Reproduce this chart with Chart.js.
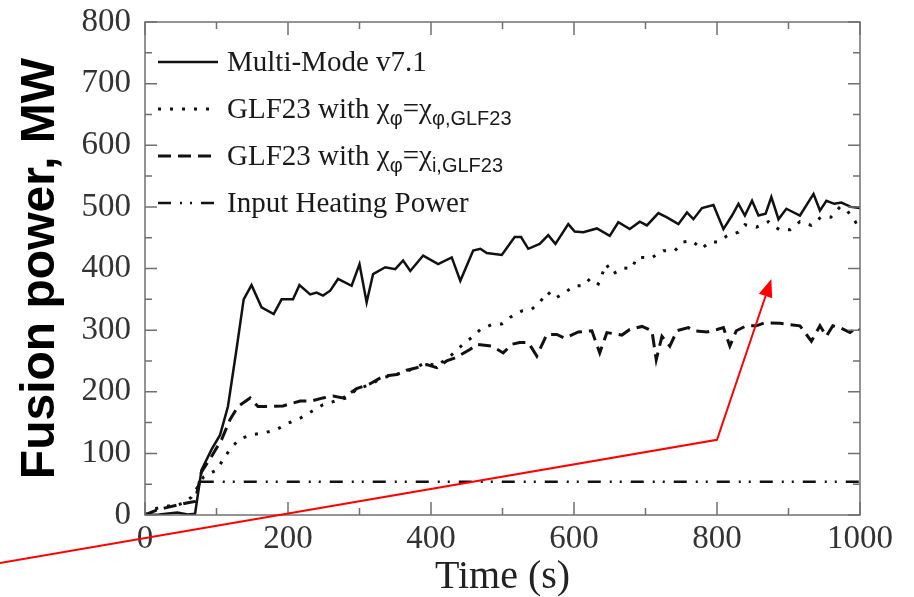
<!DOCTYPE html>
<html>
<head>
<meta charset="utf-8">
<script src="https://cdn.jsdelivr.net/npm/chart.js@4.4.1/dist/chart.umd.min.js"></script>
<style>
  html, body { margin: 0; padding: 0; background: #fff; }
</style>
</head>
<body>
<canvas id="fusion" width="914" height="597"></canvas>
<script>
// Multi-Mode v7.1 (solid)
const timeMM = [0, 20, 45, 60, 70, 79, 93, 105, 116, 128, 138, 149, 163, 180, 191, 207, 216, 231, 240, 249,
  259, 270, 289, 300, 310, 319, 336, 350, 361, 371, 389, 410, 429, 441, 459, 469, 478, 499, 517, 526,
  536, 552, 564, 574, 592, 601, 613, 632, 650, 662, 678, 692, 702, 718, 730, 746, 758, 767, 779, 795,
  809, 821, 830, 839, 849, 858, 868, 876, 886, 897, 916, 935, 944, 953, 964, 974, 987, 1000];
const powerMM = [0, 1, 4, 1, 2, 73, 106, 130, 176, 269, 350, 373, 337, 326, 350, 350, 373, 358, 361, 356,
  364, 383, 372, 407, 345, 391, 402, 399, 413, 396, 421, 407, 418, 380, 429, 432, 425, 422, 451, 451,
  432, 440, 454, 440, 472, 460, 459, 465, 453, 475, 464, 476, 470, 490, 483, 472, 491, 480, 498, 503,
  464, 486, 505, 486, 510, 486, 489, 516, 480, 497, 486, 521, 494, 510, 505, 507, 500, 498];

// GLF23 with chi_phi = chi_phi,GLF23 (dotted)
const timeDot = [0, 14, 28, 44, 53, 65, 82, 100, 110, 119, 132, 148, 165, 183, 200, 217, 233, 249, 266, 282,
  296, 315, 333, 352, 375, 392, 408, 427, 445, 457, 469, 485, 499, 511, 527, 541, 552, 563, 573, 587,
  601, 613, 623, 634, 645, 654, 669, 681, 688, 697, 708, 725, 741, 753, 765, 778, 790, 802, 814, 830,
  839, 855, 872, 887, 902, 916, 932, 945, 959, 972, 982, 994, 1000];
const powerDot = [0, 10, 14, 16, 19, 29, 62, 73, 91, 107, 123, 130, 133, 138, 149, 157, 168, 179, 185, 190,
  204, 212, 223, 228, 237, 247, 242, 258, 277, 288, 301, 309, 310, 321, 331, 334, 345, 362, 351, 361,
  372, 372, 384, 375, 407, 391, 401, 400, 418, 418, 417, 429, 429, 443, 445, 432, 443, 443, 453, 459,
  471, 467, 476, 463, 463, 476, 470, 483, 483, 500, 494, 475, 478];

// GLF23 with chi_phi = chi_i,GLF23 (dashed)
const timeDash = [0, 16, 30, 45, 60, 70, 79, 93, 107, 119, 130, 147, 158, 174, 193, 217, 233, 249, 263, 277,
  296, 315, 333, 352, 366, 380, 394, 408, 422, 434, 455, 464, 485, 501, 513, 524, 536, 548, 562, 576,
  587, 606, 625, 636, 646, 667, 678, 695, 709, 715, 723, 734, 744, 760, 767, 786, 800, 809, 818, 827,
  841, 855, 867, 888, 916, 932, 944, 953, 962, 972, 986, 995, 1000];
const powerDash = [0, 8, 12, 16, 20, 22, 70, 95, 122, 155, 176, 190, 176, 176, 177, 185, 185, 190, 193, 190,
  205, 213, 225, 228, 235, 239, 244, 239, 250, 255, 269, 277, 274, 263, 277, 280, 280, 258, 293, 293,
  287, 297, 299, 263, 296, 292, 301, 306, 299, 252, 290, 274, 299, 304, 299, 297, 301, 304, 274, 299,
  307, 307, 312, 311, 307, 282, 307, 290, 307, 304, 296, 304, 300];

// Input heating power (dash-dot-dot)
const timeHeat = [78, 1000];
const powerHeat = [54, 54];

// red annotation arrow, in axis units (starts off the plot, bottom left)
const arrowTime = [-203, 800, 876];
const arrowPower = [-78, 122, 383];

const xTicks = [0, 200, 400, 600, 800, 1000];
const yTicks = [0, 100, 200, 300, 400, 500, 600, 700, 800];

function pairs(xs, ys) {
  return xs.map((t, i) => ({ x: t, y: ys[i] }));
}

// legend drawn by hand so the subscripts come out right
function drawRich(ctx, text, x, y) {
  const parts = text.split(/(_\{[^}]*\})/);
  parts.forEach(p => {
    if (!p) return;
    if (p.startsWith('_{')) {
      const s = p.slice(2, -1);
      ctx.font = '20px "Liberation Sans"';
      ctx.fillText(s, x, y + 7);
      x += ctx.measureText(s).width;
    } else {
      ctx.font = '29px "Liberation Serif"';
      ctx.fillText(p, x, y);
      x += ctx.measureText(p).width;
    }
  });
}

const frame = {
  id: 'frame',
  afterDatasetsDraw(chart) {
    const { ctx, chartArea: a, scales: { x, y } } = chart;
    ctx.save();
    ctx.strokeStyle = '#707070';
    ctx.lineWidth = 1.5;
    ctx.strokeRect(a.left, a.top, a.right - a.left, a.bottom - a.top);
    ctx.beginPath();
    for (let t = 0; t <= 1000; t += 100) {
      const px = x.getPixelForValue(t);
      const len = t % 200 === 0 ? 13 : 7;
      ctx.moveTo(px, a.bottom); ctx.lineTo(px, a.bottom - len);
      ctx.moveTo(px, a.top); ctx.lineTo(px, a.top + len);
    }
    for (let v = 0; v <= 800; v += 50) {
      const py = y.getPixelForValue(v);
      const len = v % 100 === 0 ? 12 : 7;
      ctx.moveTo(a.left, py); ctx.lineTo(a.left + len, py);
      ctx.moveTo(a.right, py); ctx.lineTo(a.right - len, py);
    }
    ctx.stroke();
    ctx.restore();
  },
  afterDraw(chart) {
    const { ctx, chartArea: a, scales: { x, y } } = chart;
    ctx.save();
    // legend
    const x0 = a.left + 13;
    chart.data.datasets.forEach((ds, i) => {
      const ly = a.top + 40 + i * 47;
      ctx.strokeStyle = '#111';
      ctx.lineWidth = ds.borderWidth;
      ctx.setLineDash(ds.borderDash || []);
      ctx.beginPath();
      ctx.moveTo(x0, ly);
      ctx.lineTo(x0 + 60, ly);
      ctx.stroke();
      ctx.setLineDash([]);
      ctx.fillStyle = '#1a1a1a';
      ctx.textBaseline = 'alphabetic';
      drawRich(ctx, ds.label, x0 + 69, ly + 9);
    });
    // red arrow
    const pts = arrowTime.map((t, i) => [x.getPixelForValue(t), y.getPixelForValue(arrowPower[i])]);
    const [ex, ey] = pts[pts.length - 1];
    const [px, py] = pts[pts.length - 2];
    const ang = Math.atan2(ey - py, ex - px);
    const head = 18, half = 7;
    ctx.strokeStyle = '#f00';
    ctx.fillStyle = '#f00';
    ctx.lineWidth = 2;
    ctx.beginPath();
    ctx.moveTo(pts[0][0], pts[0][1]);
    ctx.lineTo(pts[1][0], pts[1][1]);
    ctx.lineTo(ex - head * Math.cos(ang), ey - head * Math.sin(ang));
    ctx.stroke();
    ctx.beginPath();
    ctx.moveTo(ex, ey);
    ctx.lineTo(ex - head * Math.cos(ang) + half * Math.sin(ang), ey - head * Math.sin(ang) - half * Math.cos(ang));
    ctx.lineTo(ex - head * Math.cos(ang) - half * Math.sin(ang), ey - head * Math.sin(ang) + half * Math.cos(ang));
    ctx.closePath();
    ctx.fill();
    ctx.restore();
  }
};

new Chart(document.getElementById('fusion').getContext('2d'), {
  type: 'line',
  data: {
    datasets: [{
      label: 'Multi-Mode v7.1',
      data: pairs(timeMM, powerMM),
      borderColor: '#111',
      borderWidth: 2.5
    }, {
      label: 'GLF23 with χ_{φ}=χ_{φ,GLF23}',
      data: pairs(timeDot, powerDot),
      borderColor: '#111',
      borderWidth: 3,
      borderDash: [3, 9]
    }, {
      label: 'GLF23 with χ_{φ}=χ_{i,GLF23}',
      data: pairs(timeDash, powerDash),
      borderColor: '#111',
      borderWidth: 3,
      borderDash: [13, 7]
    }, {
      label: 'Input Heating Power',
      data: pairs(timeHeat, powerHeat),
      borderColor: '#111',
      borderWidth: 2.5,
      borderDash: [13, 9, 2, 8, 2, 9]
    }]
  },
  options: {
    responsive: false,
    animation: false,
    devicePixelRatio: 1,
    layout: { padding: { left: 0, right: 54, top: 22, bottom: 0 } },
    elements: { point: { radius: 0 }, line: { tension: 0 } },
    plugins: { legend: { display: false }, tooltip: { enabled: false } },
    scales: {
      x: {
        type: 'linear',
        min: 0,
        max: 1000,
        afterBuildTicks: s => { s.ticks = xTicks.map(v => ({ value: v })); },
        afterFit: s => { s.height = 82; s.paddingLeft = 0; s.paddingRight = 0; },
        grid: { display: false, drawTicks: false },
        border: { display: false },
        ticks: {
          padding: 5,
          color: '#333',
          maxRotation: 0,
          callback: v => String(v),
          font: { family: 'Liberation Serif', size: 33 }
        },
        title: {
          display: true,
          text: 'Time (s)',
          color: '#222',
          padding: { top: 0, bottom: 0 },
          font: { family: 'Liberation Serif', size: 40, lineHeight: 1 }
        }
      },
      y: {
        min: 0,
        max: 800,
        afterBuildTicks: s => { s.ticks = yTicks.map(v => ({ value: v })); },
        afterFit: s => { s.width = 145; s.paddingTop = 0; s.paddingBottom = 0; },
        grid: { display: false, drawTicks: false },
        border: { display: false },
        ticks: {
          padding: 14,
          color: '#333',
          callback: v => String(v),
          font: { family: 'Liberation Serif', size: 33 }
        },
        title: {
          display: true,
          text: 'Fusion power, MW',
          color: '#000',
          padding: { top: 17, bottom: 0 },
          font: { family: 'Liberation Sans', size: 48, weight: 'bold', lineHeight: 1 }
        }
      }
    }
  },
  plugins: [frame]
});
</script>
</body>
</html>
